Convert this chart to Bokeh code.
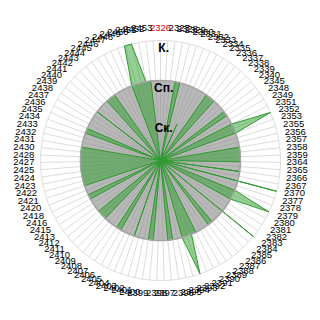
import math
from bokeh.plotting import figure
from bokeh.models import ColumnDataSource
from bokeh.core.properties import value
from bokeh.embed import file_html
from bokeh.resources import INLINE

categories = ["2326", "2327", "2328", "2329", "2330", "2331", "2332", "2333", "2334", "2335",
              "2336", "2337", "2338", "2339", "2340", "2345", "2348", "2349", "2351", "2352",
              "2353", "2355", "2356", "2357", "2358", "2359", "2364", "2365", "2366", "2367",
              "2370", "2377", "2378", "2379", "2380", "2381", "2382", "2383", "2384", "2385",
              "2386", "2387", "2388", "2389", "2390", "2391", "2392", "2393", "2394", "2395",
              "2396", "2397", "2398", "2399", "2400", "2401", "2402", "2403", "2404", "2405",
              "2406", "2407", "2408", "2409", "2410", "2411", "2412", "2413", "2415", "2416",
              "2418", "2420", "2421", "2422", "2423", "2424", "2425", "2427", "2428", "2430",
              "2431", "2432", "2433", "2434", "2435", "2436", "2437", "2438", "2439", "2440",
              "2441", "2442", "2443", "2444", "2445", "2446", "2447", "2448", "2449", "2450",
              "2451", "2452", "2453"]
highlighted = ["2326"]
level_labels = ["Ск.", "Сп.", "К."]
level_values = [1, 2, 3]
gray_values = [2] * len(categories)
green_values = [0, 0, 0, 2, 2, 0, 0, 1, 0, 0,
                2, 2, 2, 0, 0, 2, 2, 0, 2, 3,
                2, 0, 0, 2, 2, 2, 2, 0, 2, 0,
                3, 0, 2, 3, 2, 0, 0, 3, 0, 0,
                2, 2, 0, 0, 2, 2, 3, 2, 0, 2,
                2, 0, 0, 2, 2, 0, 0, 2, 0, 0,
                2, 2, 0, 0, 2, 2, 2, 0, 0, 2,
                2, 0, 2, 2, 2, 2, 2, 2, 2, 2,
                2, 0, 0, 2, 2, 0, 0, 0, 2, 0,
                0, 2, 2, 2, 0, 0, 0, 2, 3, 3,
                2, 2, 0]

N = len(categories)
RMAX = 3
angles = [2 * math.pi * i / N for i in range(N)]

p = figure(width=320, height=320, output_backend="svg", toolbar_location=None,
           x_range=(-4, 4), y_range=(-4, 4), min_border=0)
p.axis.visible = False
p.grid.visible = False
p.outline_line_color = None
p.background_fill_color = "white"

# spokes
p.segment(x0=[0] * N, y0=[0] * N,
          x1=[RMAX * math.sin(a) for a in angles],
          y1=[RMAX * math.cos(a) for a in angles],
          line_color="#dcdcdc", line_width=1)
# outer ring
ring = [2 * math.pi * k / 360 for k in range(361)]
p.line([RMAX * math.sin(a) for a in ring], [RMAX * math.cos(a) for a in ring],
       line_color="#dcdcdc", line_width=1)

# gray series (fill)
gx = [v * math.sin(a) for v, a in zip(gray_values, angles)]
gy = [v * math.cos(a) for v, a in zip(gray_values, angles)]
p.patch(gx, gy, fill_color="#8c8c8c", fill_alpha=0.62, line_color=None)

# green series
vx = [v * math.sin(a) for v, a in zip(green_values, angles)]
vy = [v * math.cos(a) for v, a in zip(green_values, angles)]
p.patch(vx, vy, fill_color="#2ca02c", fill_alpha=0.5, line_color="#2f9a2f", line_width=1)

# gray series outline, on top
p.patch(gx, gy, fill_color=None, line_color="#a3a3a3", line_width=1.5)

# category labels
lx, ly, la, colors = [], [], [], []
for c, a in zip(categories, angles):
    s, co = math.sin(a), math.cos(a)
    r = 3.15 + 0.17 * abs(co)
    lx.append(r * s)
    ly.append(r * co)
    if s > 0.06:
        la.append("left")
    elif s < -0.06:
        la.append("right")
    else:
        la.append("center")
    colors.append("#cc0000" if c in highlighted else "black")
src = ColumnDataSource(dict(x=lx, y=ly, t=categories, a=la, c=colors))
p.text(x="x", y="y", text="t", text_align="a", text_baseline="middle",
       text_color="c", text_font=value("Liberation Sans"), text_font_size="9.5px",
       source=src)

# level labels
p.text(x=[0.08] * 3, y=level_values, text=level_labels, text_align="center",
       text_baseline="top", text_font=value("Liberation Sans"), text_font_size="12px",
       text_font_style="bold", text_color="black")

open("out.html", "w").write(file_html(p, INLINE))
